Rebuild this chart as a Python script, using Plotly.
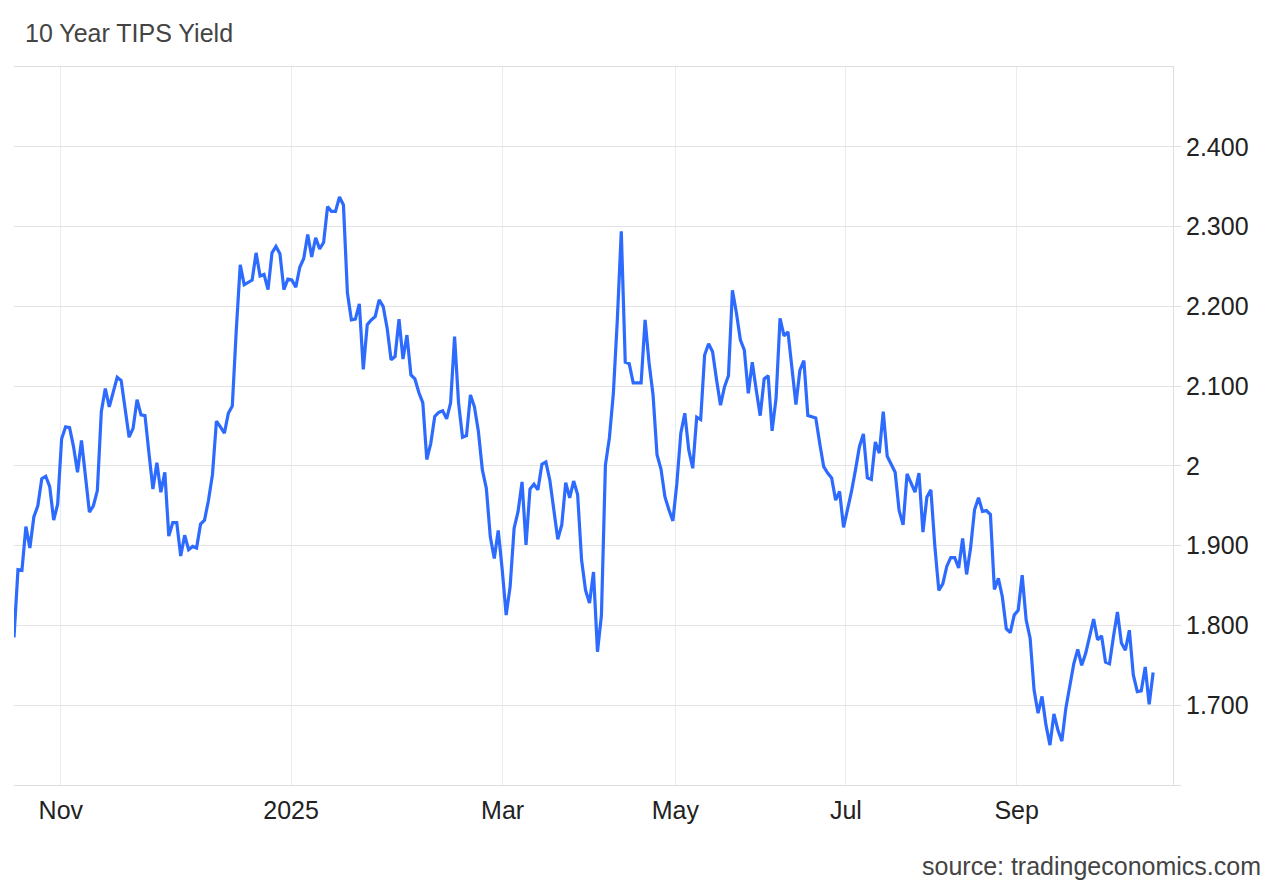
import plotly.graph_objects as go

values = [
    1.785, 1.870, 1.869, 1.924, 1.897, 1.936, 1.950, 1.984, 1.987, 1.974,
    1.932, 1.952, 2.034, 2.049, 2.048, 2.024, 1.992, 2.032, 1.987, 1.942,
    1.950, 1.969, 2.068, 2.097, 2.074, 2.091, 2.111, 2.107, 2.074, 2.036,
    2.047, 2.083, 2.064, 2.063, 2.016, 1.971, 2.004, 1.967, 1.992, 1.912,
    1.929, 1.929, 1.887, 1.913, 1.895, 1.899, 1.897, 1.927, 1.932, 1.957,
    1.989, 2.056, 2.049, 2.041, 2.066, 2.075, 2.170, 2.252, 2.227, 2.230,
    2.233, 2.267, 2.238, 2.240, 2.221, 2.267, 2.275, 2.266, 2.221, 2.234,
    2.233, 2.224, 2.249, 2.260, 2.290, 2.262, 2.286, 2.272, 2.280, 2.325,
    2.319, 2.319, 2.337, 2.327, 2.217, 2.183, 2.184, 2.203, 2.121, 2.177,
    2.183, 2.187, 2.208, 2.200, 2.173, 2.133, 2.137, 2.184, 2.134, 2.164,
    2.114, 2.109, 2.092, 2.079, 2.008, 2.028, 2.062, 2.067, 2.069, 2.059,
    2.079, 2.162, 2.079, 2.036, 2.038, 2.089, 2.074, 2.043, 1.995, 1.972,
    1.911, 1.884, 1.919, 1.870, 1.813, 1.849, 1.922, 1.943, 1.980, 1.901,
    1.971, 1.977, 1.970, 2.002, 2.005, 1.982, 1.941, 1.908, 1.926, 1.979,
    1.960, 1.981, 1.964, 1.882, 1.844, 1.828, 1.867, 1.767, 1.813, 2.001,
    2.035, 2.091, 2.183, 2.294, 2.130, 2.128, 2.104, 2.104, 2.104, 2.183,
    2.129, 2.089, 2.014, 1.996, 1.961, 1.945, 1.931, 1.978, 2.041, 2.066,
    2.020, 1.997, 2.061, 2.058, 2.139, 2.153, 2.143, 2.108, 2.076, 2.099,
    2.113, 2.220, 2.192, 2.158, 2.145, 2.091, 2.130, 2.095, 2.063, 2.109,
    2.113, 2.044, 2.085, 2.185, 2.163, 2.168, 2.121, 2.077, 2.120, 2.132,
    2.063, 2.062, 2.060, 2.028, 1.999, 1.991, 1.985, 1.957, 1.968, 1.923,
    1.945, 1.968, 1.995, 2.024, 2.040, 1.985, 1.983, 2.030, 2.016, 2.068,
    2.012, 2.002, 1.992, 1.944, 1.926, 1.990, 1.978, 1.967, 1.991, 1.917,
    1.961, 1.970, 1.899, 1.844, 1.852, 1.874, 1.885, 1.885, 1.872, 1.909,
    1.864, 1.897, 1.945, 1.960, 1.943, 1.944, 1.939, 1.845, 1.859, 1.836,
    1.796, 1.791, 1.813, 1.819, 1.863, 1.807, 1.784, 1.719, 1.690, 1.711,
    1.675, 1.650, 1.689, 1.669, 1.655, 1.696, 1.724, 1.752, 1.770, 1.750,
    1.765, 1.787, 1.808, 1.782, 1.787, 1.754, 1.752, 1.786, 1.817, 1.778,
    1.769, 1.794, 1.738, 1.717, 1.718, 1.748, 1.701, 1.741,
]
obs_index = list(range(len(values)))

# month labels on the x axis, placed at observation index
x_tick_labels = ["Nov", "2025", "Mar", "May", "Jul", "Sep"]
x_tick_index = [11.8, 69.8, 123.1, 166.6, 209.6, 252.6]

# y axis ticks
y_tick_values = [1.6, 1.7, 1.8, 1.9, 2.0, 2.1, 2.2, 2.3, 2.4]
y_tick_labels = ["", "1.700", "1.800", "1.900", "2", "2.100", "2.200", "2.300", "2.400"]

FONT = "Liberation Sans, Arial, Helvetica, sans-serif"

fig = go.Figure(
    go.Scatter(
        x=obs_index,
        y=values,
        mode="lines",
        line=dict(color="#2D6BFF", width=3.2),
        hoverinfo="skip",
        showlegend=False,
    )
)

fig.update_layout(
    width=1280,
    height=887,
    margin=dict(l=14, r=107, t=67, b=102),
    paper_bgcolor="white",
    plot_bgcolor="white",
    font=dict(family=FONT, size=25, color="#222222"),
    title=dict(
        text="10 Year TIPS Yield",
        font=dict(family=FONT, size=25, color="#444444"),
        x=25 / 1280,
        xref="container",
        xanchor="left",
        y=1 - 33 / 887,
        yref="container",
        yanchor="middle",
    ),
    xaxis=dict(
        range=[0, 292],
        tickmode="array",
        tickvals=x_tick_index,
        ticktext=x_tick_labels,
        showgrid=True,
        gridcolor="#e8edf3",
        gridwidth=1,
        showline=True,
        mirror=True,
        linecolor="#dedede",
        linewidth=1,
        ticks="",
        ticklabelstandoff=3,
        zeroline=False,
        tickfont=dict(family=FONT, size=25, color="#222222"),
    ),
    yaxis=dict(
        side="right",
        range=[1.6, 2.5],
        tickmode="array",
        tickvals=y_tick_values,
        ticktext=y_tick_labels,
        showgrid=True,
        gridcolor="#e3e3e3",
        gridwidth=1,
        showline=True,
        linecolor="#dedede",
        linewidth=1,
        ticks="outside",
        ticklen=7,
        tickcolor="#dedede",
        zeroline=False,
        tickfont=dict(family=FONT, size=25, color="#222222"),
    ),
    annotations=[
        dict(
            text="source: tradingeconomics.com",
            xref="paper",
            yref="paper",
            x=(1263 - 14) / 1159,
            y=-81 / 718,
            xanchor="right",
            yanchor="middle",
            showarrow=False,
            font=dict(family=FONT, size=25, color="#444444"),
        )
    ],
)

fig.write_html(
    "out.html",
    config={"displayModeBar": False},
    post_script="document.body.style.margin='0';",
)
